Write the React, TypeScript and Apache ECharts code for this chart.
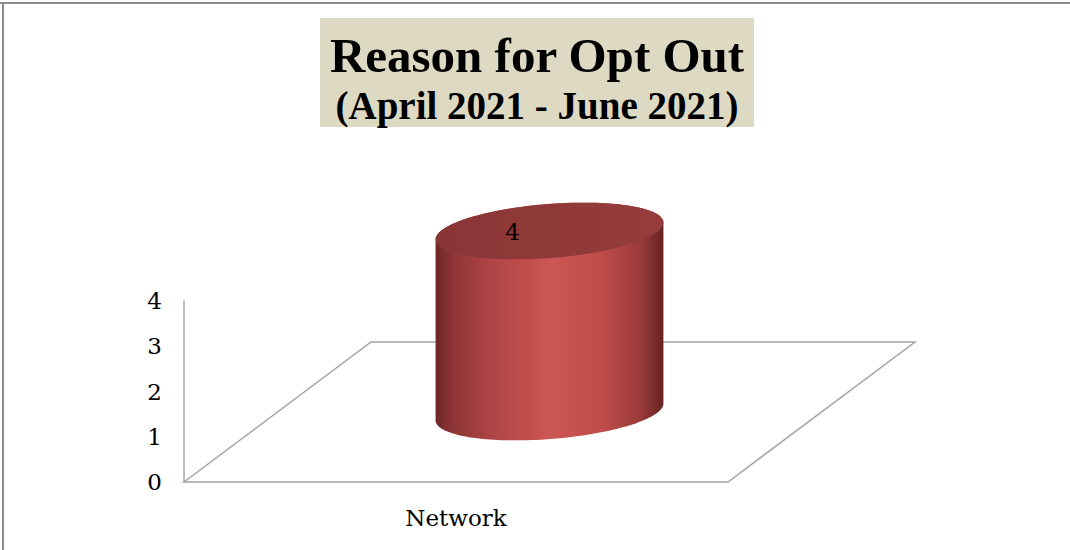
import React, { useEffect, useRef } from "react";
import * as echarts from "echarts";

const categories: string[] = ["Network"];
const values: number[] = [4];
const yMin = 0;
const yMax = 4;
const yInterval = 1;
const titleText = "Reason for Opt Out";
const subtitleText = "(April 2021 - June 2021)";

// 3D look constants (pixels)
const DEPTH_X = 187;
const DEPTH_Y = -140;
const ELL_RY = 27;
const ELL_TILT = (-4.5 * Math.PI) / 180;

function ellPoint(cx: number, cy: number, rx: number, ry: number, th: number, t: number) {
  const c = Math.cos(t), s = Math.sin(t);
  return [cx + rx * c * Math.cos(th) - ry * s * Math.sin(th), cy + rx * c * Math.sin(th) + ry * s * Math.cos(th)];
}

export default function App() {
  const ref = useRef<HTMLDivElement>(null);
  useEffect(() => {
    if (!ref.current) return;
    const chart = echarts.init(ref.current, undefined, { renderer: "svg" });
    const serif = "DejaVu Serif";

    const floorRender = (params: any, api: any) => {
      const base = api.coord([0, yMin]);
      const bw = api.size([1, 0])[0] * categories.length;
      const x0 = base[0] - api.size([1, 0])[0] / 2;
      const x1 = x0 + bw;
      const y0 = base[1];
      return {
        type: "polygon",
        shape: {
          points: [
            [x0, y0],
            [x0 + DEPTH_X, y0 + DEPTH_Y],
            [x1 + DEPTH_X, y0 + DEPTH_Y],
            [x1, y0],
          ],
        },
        style: { fill: "#ffffff", stroke: "#a3a3a3", lineWidth: 1.5 },
      };
    };

    const cylRender = (params: any, api: any) => {
      const xi = api.value(0);
      const v = api.value(1);
      const base = api.coord([xi, yMin]);
      const top = api.coord([xi, v]);
      const bw = api.size([1, 0])[0];
      const rx = bw * 0.21;
      const ry = ELL_RY;
      const th = ELL_TILT;
      const cx = base[0] + DEPTH_X / 2;
      const cyB = base[1] + DEPTH_Y / 2;
      const cyT = top[1] + DEPTH_Y / 2;
      const tR = Math.atan2(-ry * Math.sin(th), rx * Math.cos(th));
      const N = 80;
      const body: number[][] = [];
      for (let i = 0; i <= N; i++) body.push(ellPoint(cx, cyB, rx, ry, th, tR + (Math.PI * i) / N));
      for (let i = 0; i <= N; i++) body.push(ellPoint(cx, cyT, rx, ry, th, tR + Math.PI + (Math.PI * i) / N));
      const topPts: number[][] = [];
      for (let i = 0; i < 2 * N; i++) topPts.push(ellPoint(cx, cyT, rx, ry, th, (Math.PI * i) / N));
      return {
        type: "group",
        children: [
          {
            type: "polygon",
            shape: { points: body },
            style: {
              fill: new echarts.graphic.LinearGradient(0, 0, 1, 0, [
                { offset: 0, color: "#6e2727" },
                { offset: 0.08, color: "#8f3535" },
                { offset: 0.25, color: "#b04545" },
                { offset: 0.5, color: "#cd5654" },
                { offset: 0.72, color: "#c04d4b" },
                { offset: 0.9, color: "#9a3b3a" },
                { offset: 1, color: "#652222" },
              ]),
            },
          },
          {
            type: "polygon",
            shape: { points: topPts },
            style: {
              fill: new echarts.graphic.LinearGradient(0, 0, 1, 0, [
                { offset: 0, color: "#8a3636" },
                { offset: 1, color: "#963c3c" },
              ]),
            },
          },
          {
            type: "text",
            x: cx - 37,
            y: cyT + 1,
            style: {
              text: String(v),
              fill: "#000000",
              font: `23px "${serif}"`,
              align: "center",
              verticalAlign: "middle",
            },
          },
        ],
      };
    };

    chart.setOption({
      animation: false,
      backgroundColor: "#ffffff",
      grid: { left: 184, right: 342, top: 301, bottom: 68, containLabel: false },
      xAxis: {
        type: "category",
        data: categories,
        axisLine: { show: false },
        axisTick: { show: false },
        splitLine: { show: false },
        axisLabel: { color: "#000", fontFamily: serif, fontSize: 23, margin: 24 },
      },
      yAxis: {
        type: "value",
        min: yMin,
        max: yMax,
        interval: yInterval,
        axisLine: { show: true, lineStyle: { color: "#a3a3a3", width: 1.5 } },
        axisTick: { show: false },
        splitLine: { show: false },
        axisLabel: { color: "#000", fontFamily: serif, fontSize: 23, margin: 22, padding: [6, 0, 0, 0] },
      },
      graphic: [
        { type: "line", shape: { x1: 0, y1: 3, x2: 1070, y2: 3 }, style: { stroke: "#8c8c8c", lineWidth: 2 } },
        { type: "line", shape: { x1: 3, y1: 3, x2: 3, y2: 550 }, style: { stroke: "#8c8c8c", lineWidth: 2 } },
        { type: "rect", shape: { x: 320, y: 18, width: 434, height: 109 }, style: { fill: "#ddd9c3" } },
        {
          type: "text",
          x: 537,
          y: 55,
          style: {
            text: titleText,
            fill: "#000",
            font: 'bold 49px "Liberation Serif"',
            align: "center",
            verticalAlign: "middle",
          },
        },
        {
          type: "text",
          x: 537,
          y: 105,
          style: {
            text: subtitleText,
            fill: "#000",
            font: 'bold 39px "Liberation Serif"',
            align: "center",
            verticalAlign: "middle",
          },
        },
      ],
      series: [
        {
          type: "custom",
          name: "floor",
          z: 1,
          clip: false,
          silent: true,
          renderItem: floorRender,
          data: [[0]],
        },
        {
          type: "custom",
          name: "Reason",
          z: 2,
          clip: false,
          renderItem: cylRender,
          encode: { x: 0, y: 1 },
          data: values.map((v, i) => [i, v]),
        },
      ],
    });
    return () => chart.dispose();
  }, []);
  return <div ref={ref} style={{ position: "absolute", left: 0, top: 0, width: 1070, height: 550 }} />;
}
